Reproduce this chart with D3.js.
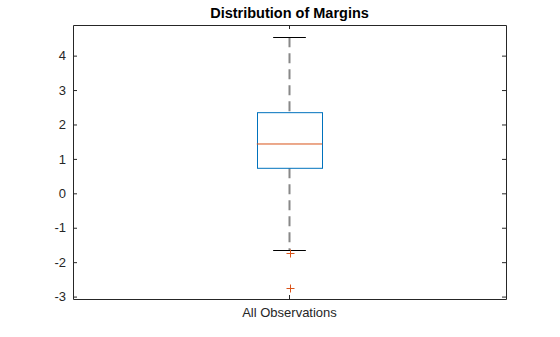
<!DOCTYPE html>
<html>
<head>
<meta charset="utf-8">
<script src="https://cdn.jsdelivr.net/npm/d3@7"></script>
<style>
  html, body { margin: 0; padding: 0; background: #fff; }
  svg { display: block; font-family: "Liberation Sans", Arial, Helvetica, sans-serif; }
</style>
</head>
<body>
<svg id="chart" width="560" height="337"></svg>
<script>
// Box plot summary of the margins
const categories = ["All Observations"];
const q1 = [0.727];
const median = [1.433];
const q3 = [2.343];
const whiskerLow = [-1.657];
const whiskerHigh = [4.535];
const outliers = [[-1.727, -2.744]];
const yTicks = [-3, -2, -1, 0, 1, 2, 3, 4];
const yDomain = [-3.07, 4.89];

const W = 560, H = 337;
const m = { left: 73, right: 54, top: 25, bottom: 38 };
const svg = d3.select("#chart");
const textColor = "#262626";

const x = d3.scaleBand().domain(categories).range([m.left, W - m.right]);
const y = d3.scaleLinear().domain(yDomain).range([H - m.bottom, m.top]);
const boxW = x.bandwidth() * 0.151;
const capHalf = boxW / 4;

// Title
svg.append("text")
  .attr("x", (m.left + W - m.right) / 2)
  .attr("y", 18)
  .attr("text-anchor", "middle")
  .attr("font-size", 14.5)
  .attr("font-weight", "bold")
  .attr("fill", "#000")
  .text("Distribution of Margins");

const plot = svg.append("g");

categories.forEach((c, i) => {
  const cx = x(c) + x.bandwidth() / 2;
  // whiskers
  plot.append("line")
    .attr("x1", cx).attr("x2", cx)
    .attr("y1", y(whiskerHigh[i])).attr("y2", y(q3[i]))
    .attr("stroke", "#888").attr("stroke-width", 2)
    .attr("stroke-dasharray", "10,6");
  plot.append("line")
    .attr("x1", cx).attr("x2", cx)
    .attr("y1", y(q1[i])).attr("y2", y(whiskerLow[i]))
    .attr("stroke", "#888").attr("stroke-width", 2)
    .attr("stroke-dasharray", "10,6");
  // caps
  [whiskerHigh[i], whiskerLow[i]].forEach(v => {
    plot.append("line")
      .attr("x1", cx - capHalf).attr("x2", cx + capHalf)
      .attr("y1", Math.round(y(v)) + 0.5).attr("y2", Math.round(y(v)) + 0.5)
      .attr("stroke", "#000").attr("stroke-width", 1);
  });
  // box
  plot.append("rect")
    .attr("x", Math.round(cx - boxW / 2) + 0.5)
    .attr("y", y(q3[i]))
    .attr("width", Math.round(boxW))
    .attr("height", y(q1[i]) - y(q3[i]))
    .attr("fill", "none")
    .attr("stroke", "#0072BD").attr("stroke-width", 1);
  // median
  plot.append("line")
    .attr("x1", cx - boxW / 2).attr("x2", cx + boxW / 2)
    .attr("y1", y(median[i])).attr("y2", y(median[i]))
    .attr("stroke", "#D95319").attr("stroke-width", 1);
  // outliers
  outliers[i].forEach(v => {
    const py = Math.round(y(v)) + 0.5;
    const px = Math.round(cx) + 0.5;
    plot.append("path")
      .attr("d", `M${px - 4},${py}H${px + 4}M${px},${py - 4}V${py + 4}`)
      .attr("stroke", "#D95319").attr("stroke-width", 1).attr("fill", "none");
  });
});

// Axes: ticks point inward on all four sides
const fmt = d => String(d);
const yAxisL = d3.axisLeft(y).tickValues(yTicks).tickSize(-4).tickSizeOuter(0).tickPadding(7).tickFormat(fmt);
const yAxisR = d3.axisRight(y).tickValues(yTicks).tickSize(-4).tickSizeOuter(0).tickFormat("");
const xAxisB = d3.axisBottom(x).tickSize(-4).tickSizeOuter(0).tickPadding(9);
const xAxisT = d3.axisTop(x).tickSize(-4).tickSizeOuter(0).tickFormat("");

function style(g) {
  g.selectAll("path.domain").attr("stroke", textColor);
  g.selectAll(".tick line").attr("stroke", textColor);
  g.selectAll(".tick text").attr("fill", textColor).attr("font-size", 13)
    .attr("font-family", "Liberation Sans, Arial, Helvetica, sans-serif");
}

svg.append("g").attr("transform", `translate(${m.left},0)`).call(yAxisL).call(style);
svg.append("g").attr("transform", `translate(${W - m.right},0)`).call(yAxisR).call(style);
svg.append("g").attr("transform", `translate(0,${H - m.bottom})`).call(xAxisB).call(style);
svg.append("g").attr("transform", `translate(0,${m.top})`).call(xAxisT).call(style);
</script>
</body>
</html>
